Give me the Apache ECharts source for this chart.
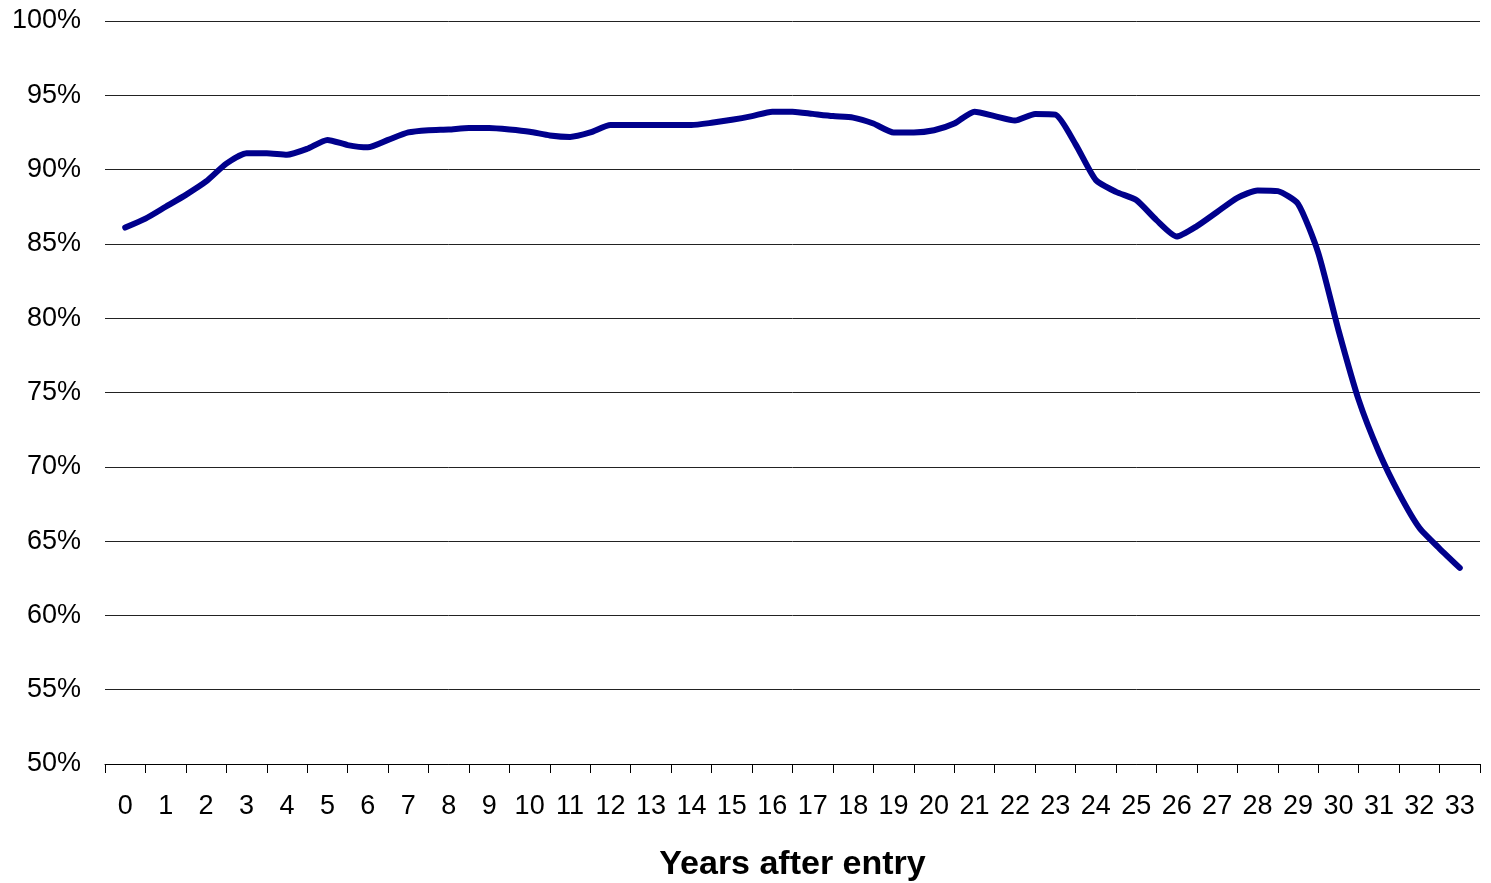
<!DOCTYPE html>
<html>
<head>
<meta charset="utf-8">
<script src="https://cdn.jsdelivr.net/npm/echarts@6/dist/echarts.min.js"></script>
<style>
html, body { margin: 0; padding: 0; background: #fff; }
#chart { width: 1491px; height: 883px; }
</style>
</head>
<body>
<div id="chart"></div>
<script>
// x axis labels, one per year
const categories = ["0","1","2","3","4","5","6","7","8","9","10","11","12","13","14","15","16",
  "17","18","19","20","21","22","23","24","25","26","27","28","29","30","31","32","33"];

// half-year sample points
const years = [0,0.5,1,1.5,2,2.5,3,3.5,4,4.5,5,5.5,6,6.5,7,7.5,8,8.5,9,9.5,10,10.5,11,11.5,
  12,12.5,13,13.5,14,14.5,15,15.5,16,16.5,17,17.5,18,18.5,19,19.5,20,20.5,21,21.5,22,22.5,
  23,23.5,24,24.5,25,25.5,26,26.5,27,27.5,28,28.5,29,29.5,30,30.5,31,31.5,32,32.5,33];
const values = [86.1,86.7,87.5,88.3,89.2,90.4,91.1,91.1,91.0,91.4,92.0,91.65,91.5,92.0,92.5,92.65,
  92.7,92.8,92.8,92.7,92.55,92.3,92.2,92.5,93.0,93.0,93.0,93.0,93.0,93.15,93.35,93.6,93.9,93.9,
  93.75,93.6,93.5,93.1,92.5,92.5,92.65,93.1,93.9,93.6,93.3,93.75,93.7,91.7,89.3,88.5,87.95,86.6,
  85.5,86.2,87.15,88.1,88.6,88.55,87.7,84.4,79.2,74.5,71.0,68.2,65.9,64.5,63.2];

const font = "'Liberation Sans', Arial, sans-serif";

let myChart = echarts.init(document.getElementById("chart"));
myChart.setOption({
  animation : false,
  grid : {
    left : 105,
    right : 11,
    top : 21,
    bottom : 119,
    outerBoundsMode : "none"
  },
  xAxis : [
    {
      // visible category axis: labels and ticks between years
      type : "category",
      data : categories,
      boundaryGap : true,
      name : "Years after entry",
      nameLocation : "middle",
      nameGap : 84,
      nameTextStyle : {fontFamily : font, fontSize : 34, fontWeight : "bold", color : "#000"},
      axisLine : {lineStyle : {color : "#000", width : 1}},
      axisTick : {show : true, length : 9, lineStyle : {color : "#000"}},
      axisLabel : {fontFamily : font, fontSize : 27, color : "#000", margin : 29, interval : 0},
      splitLine : {show : false}
    },
    {
      // hidden value axis that places the half-year points
      type : "value",
      min : -0.5,
      max : 33.5,
      show : false
    }
  ],
  yAxis : {
    type : "value",
    min : 50,
    max : 100,
    interval : 5,
    axisLine : {show : false},
    axisTick : {show : false},
    axisLabel : {
      fontFamily : font,
      fontSize : 27,
      color : "#000",
      margin : 24,
      formatter : v => v + "%"
    },
    splitLine : {lineStyle : {color : "#222", width : 1}}
  },
  series : [
    {
      type : "line",
      xAxisIndex : 1,
      data : years.map((y, i) => [y, values[i]]),
      showSymbol : false,
      smooth : 0.2,
      lineStyle : {color : "#00008C", width : 6, cap : "round", join : "round"}
    }
  ]
});
</script>
</body>
</html>
